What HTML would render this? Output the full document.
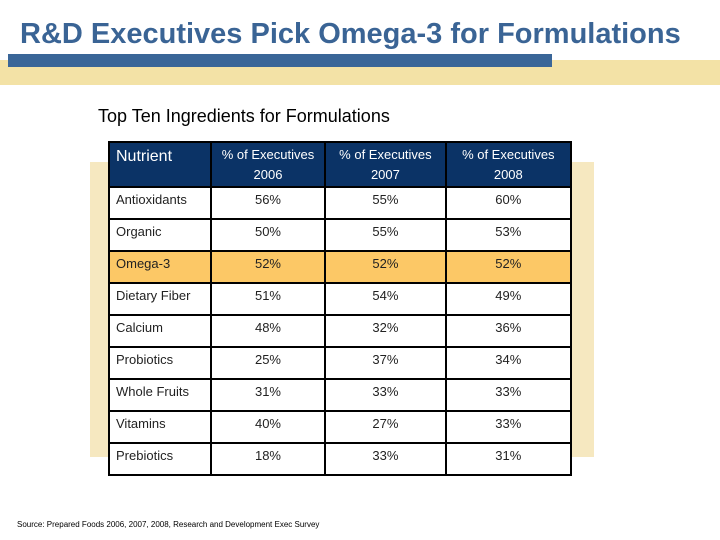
<!DOCTYPE html>
<html><head><meta charset="utf-8"><style>
body{margin:0;width:720px;height:540px;background:#fff;position:relative;overflow:hidden;font-family:"Liberation Sans",sans-serif}
.abs{position:absolute}
table{border-collapse:collapse;position:absolute;left:108px;top:141px;width:464px;}
td{border:2px solid #000;font-size:13px;color:#222;height:32px;padding:4px 0 0 0;vertical-align:top;text-align:center;background:#fff;box-sizing:border-box}
td.n{text-align:left;padding-left:6px}
tr.h td{background:#0b3366;color:#fff;height:45px;line-height:20px;font-size:13px;padding-top:2px}
tr.h td.n{font-size:16px;padding-top:4px}
tr.o td{background:#fcc866}
</style></head><body>
<div class="abs" style="left:0;top:60px;width:720px;height:25px;background:#f3e2a6"></div>
<div class="abs" style="left:8px;top:54px;width:544px;height:13px;background:#3a6698"></div>
<div class="abs" style="left:20px;top:18px;font-size:29px;font-weight:bold;color:#3a6495;white-space:nowrap">R&amp;D Executives Pick Omega-3 for Formulations</div>
<div class="abs" style="left:98px;top:106px;font-size:18px;color:#000;white-space:nowrap">Top Ten Ingredients for Formulations</div>
<div class="abs" style="left:90px;top:162px;width:504px;height:295px;background:#f6e8c0"></div>
<table>
<colgroup><col style="width:102px"><col style="width:115px"><col style="width:121px"><col style="width:126px"></colgroup>
<tr class="h"><td class="n">Nutrient</td><td>% of Executives<br>2006</td><td>% of Executives<br>2007</td><td>% of Executives<br>2008</td></tr>
<tr><td class="n">Antioxidants</td><td>56%</td><td>55%</td><td>60%</td></tr>
<tr><td class="n">Organic</td><td>50%</td><td>55%</td><td>53%</td></tr>
<tr class="o"><td class="n">Omega-3</td><td>52%</td><td>52%</td><td>52%</td></tr>
<tr><td class="n">Dietary Fiber</td><td>51%</td><td>54%</td><td>49%</td></tr>
<tr><td class="n">Calcium</td><td>48%</td><td>32%</td><td>36%</td></tr>
<tr><td class="n">Probiotics</td><td>25%</td><td>37%</td><td>34%</td></tr>
<tr><td class="n">Whole Fruits</td><td>31%</td><td>33%</td><td>33%</td></tr>
<tr><td class="n">Vitamins</td><td>40%</td><td>27%</td><td>33%</td></tr>
<tr><td class="n">Prebiotics</td><td>18%</td><td>33%</td><td>31%</td></tr>
</table>
<div class="abs" style="left:17px;top:520px;font-size:8px;color:#000;white-space:nowrap">Source: Prepared Foods 2006, 2007, 2008, Research and Development Exec Survey</div>
</body></html>
